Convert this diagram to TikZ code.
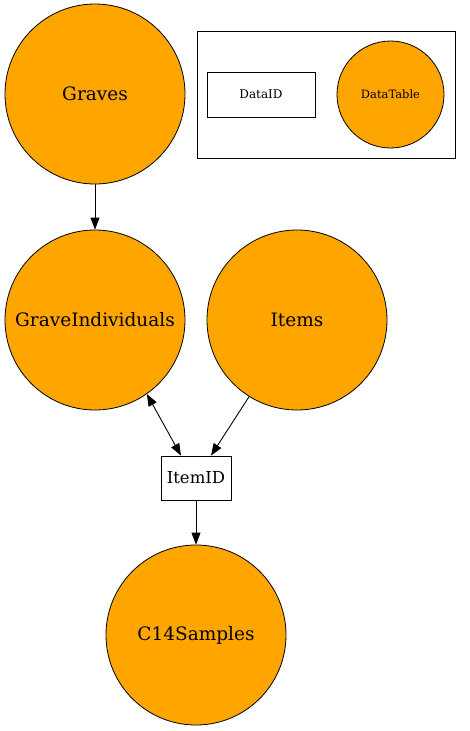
\documentclass[tikz,border=0pt]{standalone}
\usepackage{fontspec}
\setmainfont{DejaVu Serif}
\usetikzlibrary{arrows.meta,calc}
\definecolor{tableorange}{RGB}{255,165,0}
\tikzset{
  tablenode/.style={circle,draw=black,line width=0.8pt,fill=tableorange,minimum size=180pt,inner sep=0pt,font=\fontsize{18.5}{22}\selectfont},
  idnode/.style={rectangle,draw=black,line width=0.8pt,fill=white,inner sep=0pt,font=\fontsize{16.5}{19}\selectfont},
  conn/.style={draw=black,line width=0.9pt,-{Triangle[length=12pt,width=9pt]}},
  bconn/.style={draw=black,line width=0.9pt,{Triangle[length=12pt,width=9pt]}-{Triangle[length=12pt,width=9pt]}}
}
\begin{document}
\begin{tikzpicture}[x=1pt,y=-1pt]
\useasboundingbox (0,0) rectangle (470,731);
\node[rectangle,draw=black,line width=0.8pt,minimum width=258pt,minimum height=127pt,inner sep=0pt] (legend) at (326,94.5) {};
\node[idnode,minimum width=108pt,minimum height=45pt,font=\fontsize{12}{14}\selectfont] (dataid) at (261,94.5) {DataID};
\node[tablenode,minimum size=107pt,font=\fontsize{11.5}{14}\selectfont] (datatable) at (390.5,94.5) {DataTable};
\node[tablenode] (graves) at (95,94) {Graves};
\node[tablenode] (graveind) at (95,320) {GraveIndividuals};
\node[tablenode] (items) at (297,320) {Items};
\node[idnode,minimum width=70pt,minimum height=44pt] (itemid) at (196,478) {ItemID};
\node[tablenode] (c14) at (196,635) {C14Samples};
\draw[conn] (graves) -- (graveind);
\draw[bconn] (graveind.-55.6) -- ($(itemid.north)+(-15,0)$);
\draw[conn] (items.-122.5) -- ($(itemid.north)+(15,0)$);
\draw[conn] (itemid) -- (c14);
\end{tikzpicture}
\end{document}
